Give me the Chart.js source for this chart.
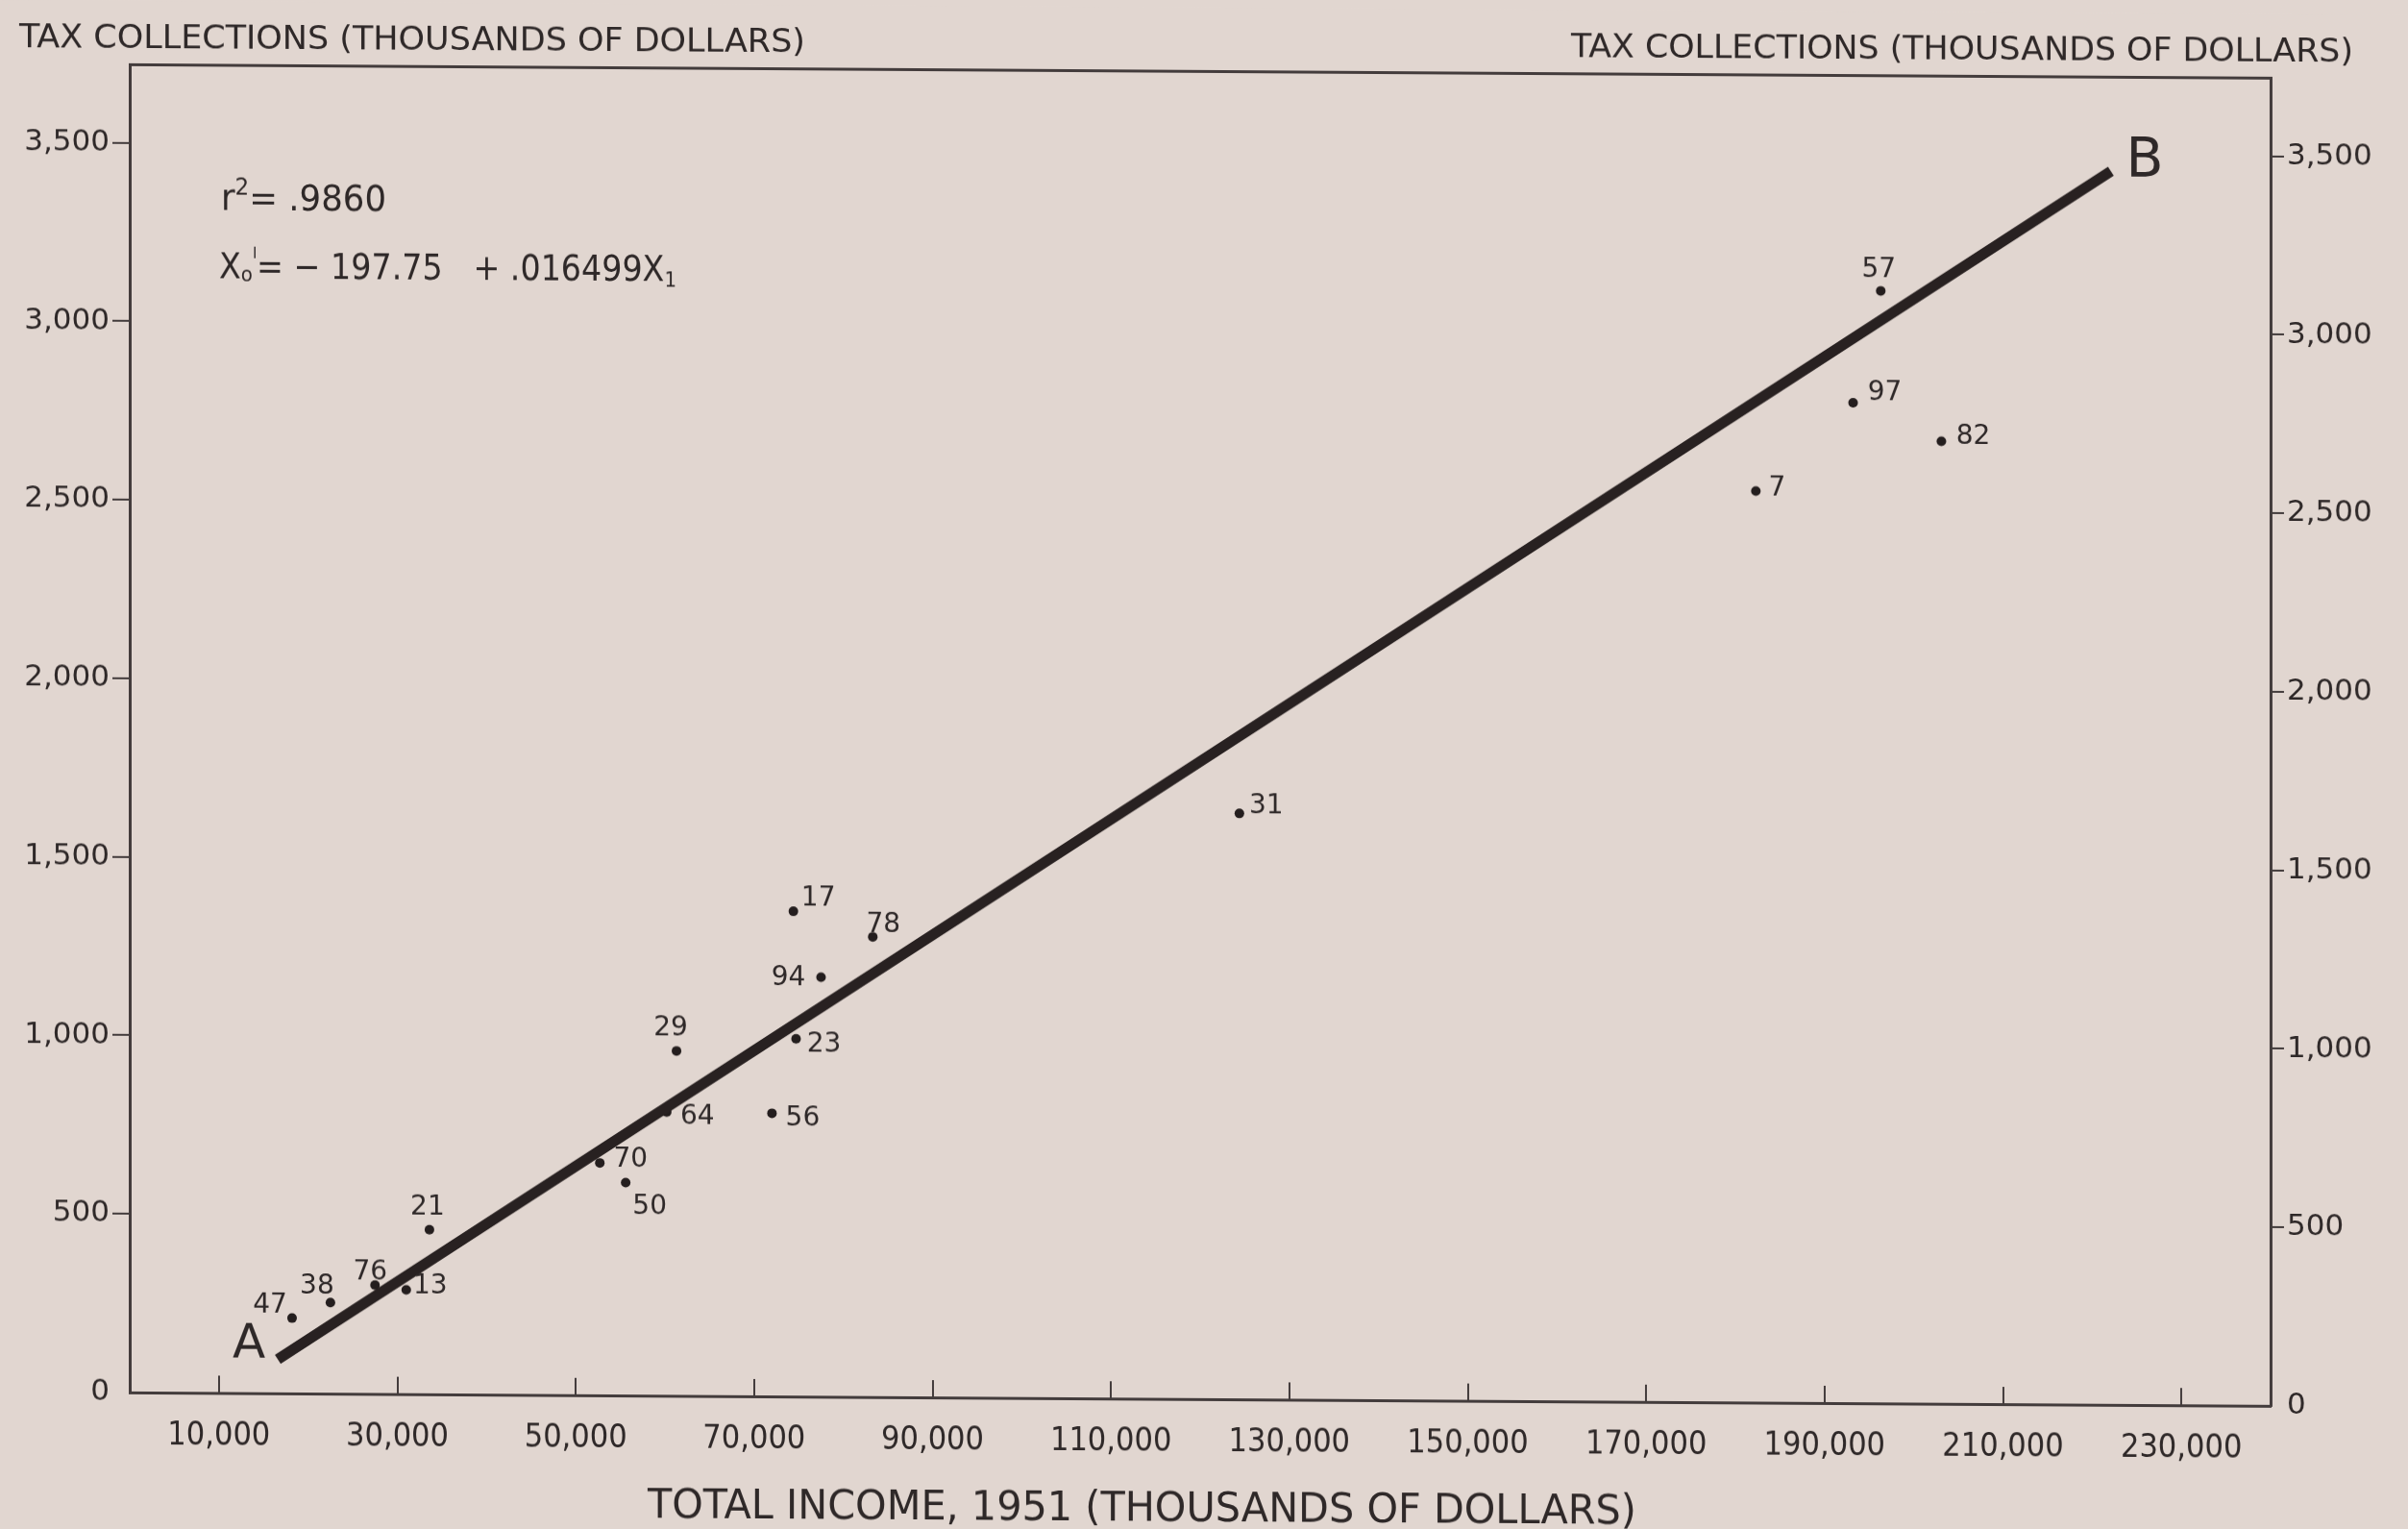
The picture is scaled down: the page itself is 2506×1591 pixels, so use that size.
<!DOCTYPE html>
<html>
<head>
<meta charset="utf-8">
<script src="https://cdn.jsdelivr.net/npm/chart.js@4/dist/chart.umd.min.js"></script>
<style>
  html, body { margin: 0; padding: 0; background: #e1d6d0; overflow: hidden; }
  #wrap { width: 2506px; height: 1591px; }
  canvas { display: block; transform-origin: 0 0; transform: skewY(0.36deg); }
</style>
</head>
<body>
<div id="wrap"><canvas id="c" width="2506" height="1591"></canvas></div>
<script>
// ---------- data ----------
const stateIds    = ['47','38','76','13','21','70','50','64','29','56','23','17','94','78','31','7','97','57','82'];
const incomeValues = [18200, 22500, 27500, 31000, 33600, 52700, 55600, 60200, 61300, 72000, 74700, 74400, 77500, 83300, 124400, 182300, 193200, 196300, 203100];
const taxValues    = [211, 255, 305, 292, 461, 651, 596, 795, 966, 793, 1002, 1359, 1175, 1289, 1641, 2553, 2802, 3116, 2696];
const lineIncome = [16600, 222100];   // ends of the line A-B
const lineTax    = [95, 3455];
const xTickValues = [10000, 30000, 50000, 70000, 90000, 110000, 130000, 150000, 170000, 190000, 210000, 230000];
const yTickValues = [0, 500, 1000, 1500, 2000, 2500, 3000, 3500];
const yAxisTitle = 'TAX COLLECTIONS (THOUSANDS OF DOLLARS)';
const xAxisTitle = 'TOTAL INCOME, 1951 (THOUSANDS OF DOLLARS)';

// ---------- layout / style (not data) ----------
const labelOffsets = [[-23,-13],[-14,-17],[-5,-13],[25,-4],[-2,-23],[32,-3],[25,25],[32,5],[-6,-23],[32,5],[29,6],[26,-13],[-34,1],[11,-12],[28,-8],[22,-3],[33,-10],[-2,-22],[33,-5]];
const INK = '#2e2828';
const AXIS = '#433c3c';
const COND = '"DejaVu Sans Condensed", "Liberation Sans Narrow", "DejaVu Sans", sans-serif';
const SANS = '"DejaVu Sans", "Liberation Sans", sans-serif';

const points = incomeValues.map((x, i) => ({ x: x, y: taxValues[i] }));
const linePts = lineIncome.map((x, i) => ({ x: x, y: lineTax[i] }));

function fmt(v) { return Number(v).toLocaleString('en-US'); }

function drawSegs(ctx, segs, x, baseY, targetW) {
  let total = 0;
  segs.forEach(s => {
    ctx.font = (s.size) + 'px ' + (s.fam || SANS);
    s.mw = ctx.measureText(s.t).width;
    total += s.mw;
  });
  const k = targetW ? targetW / total : 1;
  ctx.save();
  ctx.translate(x, baseY);
  ctx.scale(k, 1);
  ctx.textBaseline = 'alphabetic';
  ctx.textAlign = 'left';
  let cx = 0;
  segs.forEach(s => {
    ctx.font = (s.size) + 'px ' + (s.fam || SANS);
    ctx.fillText(s.t, cx, s.dy || 0);
    cx += s.mw;
  });
  ctx.restore();
}

const textPlugin = {
  id: 'textPlugin',
  beforeDraw(chart) {
    const ctx = chart.ctx;
    ctx.save();
    ctx.fillStyle = '#e1d6d0';
    ctx.fillRect(0, 0, chart.width, chart.height);
    ctx.restore();
  },
  afterDraw(chart) {
    const ctx = chart.ctx;
    ctx.save();
    ctx.fillStyle = INK;
    // axis titles
    drawSegs(ctx, [{ t: yAxisTitle, size: 34, fam: COND }], 20, 49, 818);
    drawSegs(ctx, [{ t: yAxisTitle, size: 34, fam: COND }], 1635, 49, 814);
    drawSegs(ctx, [{ t: xAxisTitle, size: 42, fam: COND }], 674, 1575, 1029);
    // statistics
    drawSegs(ctx, [
      { t: 'r', size: 37 }, { t: '2', size: 24, dy: -16 }, { t: '= .9860', size: 37 }
    ], 230, 217, 172);
    drawSegs(ctx, [
      { t: 'X', size: 37 }, { t: 'o', size: 22, dy: 3 }, { t: 'ˡ', size: 28, dy: -12 },
      { t: '= − 197.75   + .016499X', size: 37 }, { t: '1', size: 22, dy: 6 }
    ], 228, 288, 476);
    // line end letters
    ctx.textAlign = 'center';
    ctx.textBaseline = 'alphabetic';
    ctx.font = '50px ' + SANS;
    ctx.fillText('A', 259, 1411);
    ctx.font = '57px ' + SANS;
    ctx.fillText('B', 2232, 170);
    // point labels
    const meta = chart.getDatasetMeta(0);
    ctx.font = '28px ' + SANS;
    ctx.textBaseline = 'middle';
    meta.data.forEach((el, i) => {
      const o = labelOffsets[i];
      ctx.fillText(stateIds[i], el.x + o[0], el.y + o[1]);
    });
    ctx.restore();
  }
};

const hideZero = (c) => (c.tick && c.tick.value === 0) ? 'rgba(0,0,0,0)' : AXIS;

new Chart(document.getElementById('c'), {
  type: 'scatter',
  data: {
    datasets: [
      {
        label: 'States',
        data: points,
        pointRadius: 5,
        pointBackgroundColor: '#241e1e',
        pointBorderWidth: 0,
        showLine: false,
        order: 2
      },
      {
        label: 'Regression line',
        type: 'line',
        data: linePts,
        borderColor: '#282121',
        borderWidth: 11,
        pointRadius: 0,
        borderCapStyle: 'butt',
        fill: false,
        order: 1
      }
    ]
  },
  options: {
    responsive: false,
    animation: false,
    devicePixelRatio: 1,
    layout: { padding: 0 },
    plugins: { legend: { display: false }, tooltip: { enabled: false }, title: { display: false } },
    scales: {
      x: {
        type: 'linear', position: 'bottom', min: 0, max: 240000,
        afterBuildTicks: s => { s.ticks = xTickValues.map(v => ({ value: v })); },
        afterFit: s => { s.height = 143; },
        ticks: { callback: v => fmt(v), font: { family: COND, size: 34 }, color: INK, padding: 43, maxRotation: 0, autoSkip: false },
        grid: { drawOnChartArea: false, tickLength: -18, color: AXIS, lineWidth: 2 },
        border: { color: AXIS, width: 3 }
      },
      x2: {
        type: 'linear', position: 'top', min: 0, max: 240000,
        afterFit: s => { s.height = 66; },
        ticks: { display: false },
        grid: { display: false },
        border: { display: true, color: AXIS, width: 3 }
      },
      y: {
        type: 'linear', position: 'left', min: 0, max: 3720,
        afterBuildTicks: s => { s.ticks = yTickValues.map(v => ({ value: v })); },
        afterFit: s => { s.width = 135; },
        ticks: { callback: v => fmt(v), font: { family: SANS, size: 31 }, color: INK, padding: 3, autoSkip: false },
        grid: { drawOnChartArea: false, tickLength: 18, color: AXIS, tickColor: hideZero, lineWidth: 2 },
        border: { color: AXIS, width: 3 }
      },
      y2: {
        type: 'linear', position: 'right', min: 0, max: 3720,
        afterBuildTicks: s => { s.ticks = yTickValues.map(v => ({ value: v })); },
        afterFit: s => { s.width = 143; },
        ticks: { callback: v => fmt(v), font: { family: SANS, size: 31 }, color: INK, padding: 3, autoSkip: false },
        grid: { drawOnChartArea: false, tickLength: 14, color: AXIS, tickColor: hideZero, lineWidth: 2 },
        border: { color: AXIS, width: 3 }
      }
    }
  },
  plugins: [textPlugin]
});
</script>
</body>
</html>
